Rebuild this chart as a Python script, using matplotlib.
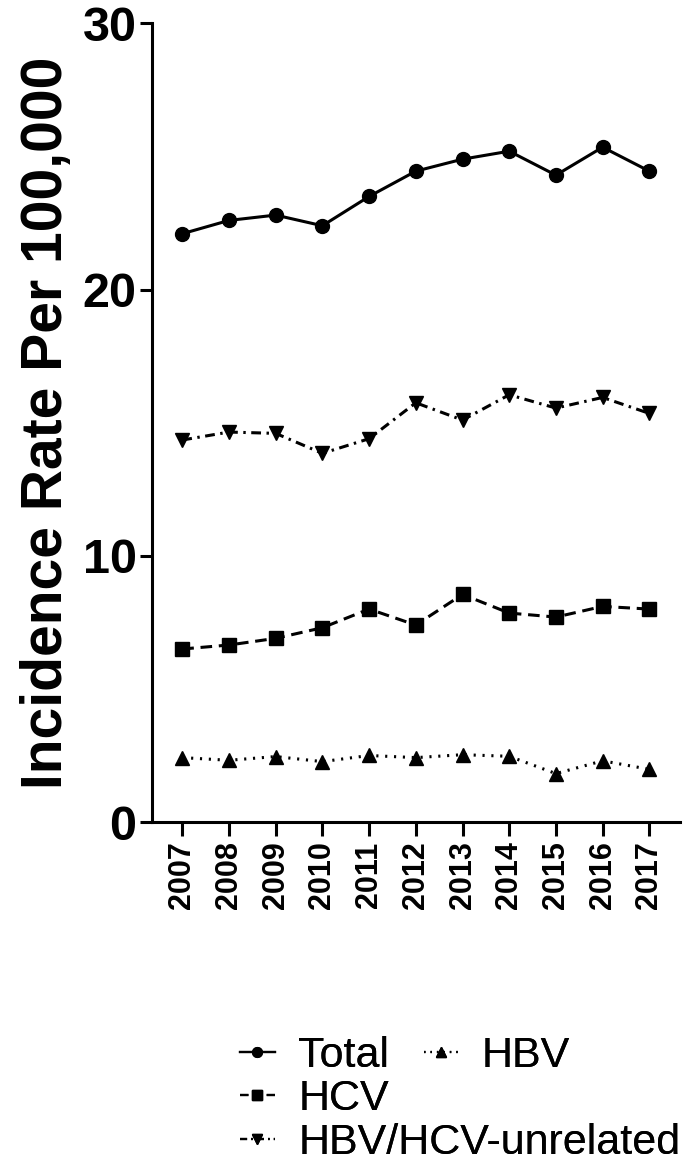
import matplotlib
matplotlib.use("Agg")
import matplotlib.pyplot as plt
from matplotlib.lines import Line2D

plt.rcParams["font.family"] = ["Liberation Sans", "DejaVu Sans"]

years = [2007, 2008, 2009, 2010, 2011, 2012, 2013, 2014, 2015, 2016, 2017]
total = [22.1, 22.6, 22.8, 22.4, 23.5, 24.45, 24.9, 25.2, 24.3, 25.35, 24.45]
hcv = [6.5, 6.65, 6.9, 7.3, 8.0, 7.4, 8.55, 7.85, 7.7, 8.1, 8.0]
hbv = [2.42, 2.32, 2.46, 2.27, 2.5, 2.42, 2.53, 2.47, 1.82, 2.3, 1.98]
unrelated = [14.35, 14.65, 14.6, 13.85, 14.4, 15.75, 15.1, 16.05, 15.55, 15.95, 15.35]
yticks = [0, 10, 20, 30]

# series name -> (values, marker, linestyle)
series = {
    "Total": (total, "o", "-"),
    "HBV": (hbv, "^", (0, (0.7, 2.2))),
    "HCV": (hcv, "s", (0, (3.8, 2.2))),
    "HBV/HCV-unrelated": (unrelated, "v", (0, (3.2, 1.8, 0.8, 1.8))),
}

fig = plt.figure(figsize=(7, 11.71), dpi=100)
ax = fig.add_axes([0.217, 0.298, 0.754, 0.682])

lw = 2.2
for name, (vals, mk, ls) in series.items():
    size = 9.5 if mk == "s" else 10
    ax.plot(years, vals, color="black", lw=lw, marker=mk, ms=size, linestyle=ls, label=name)

ax.set_xlim(2006.35, 2017.65)
ax.set_ylim(0, 30)
ax.set_yticks(yticks)
ax.set_xticks(years)
ax.set_xticklabels([str(y) for y in years], rotation=90, fontsize=22, fontweight="bold")
ax.set_yticklabels([str(v) for v in yticks], fontsize=35, fontweight="bold")
ax.tick_params(axis="y", length=9, width=2.2, pad=2)
ax.tick_params(axis="x", length=10, width=2.2, pad=4)
ax.set_ylabel("Incidence Rate Per 100,000", fontsize=41, fontweight="bold", labelpad=6)
for s in ["top", "right"]:
    ax.spines[s].set_visible(False)
for s in ["left", "bottom"]:
    ax.spines[s].set_linewidth(2.2)

# legend handles: thinner line, smaller marker
handles = {}
for name, (vals, mk, ls) in series.items():
    handles[name] = Line2D([], [], color="black", lw=1.6, linestyle=ls, marker=mk, ms=7)

def legend_row(names, ycenter):
    lg = fig.legend([handles[n] for n in names], names, loc="center left",
                    bbox_to_anchor=(0.343, ycenter), ncol=len(names),
                    frameon=False, fontsize=31, borderpad=0, borderaxespad=0,
                    handlelength=0.8, handletextpad=0.55, columnspacing=0.8)
    return lg

fig.add_artist(legend_row(["Total", "HBV"], 1 - 1056 / 1171))
fig.add_artist(legend_row(["HCV"], 1 - 1099 / 1171))
fig.add_artist(legend_row(["HBV/HCV-unrelated"], 1 - 1143 / 1171))

fig.savefig("out.png", dpi=100)
